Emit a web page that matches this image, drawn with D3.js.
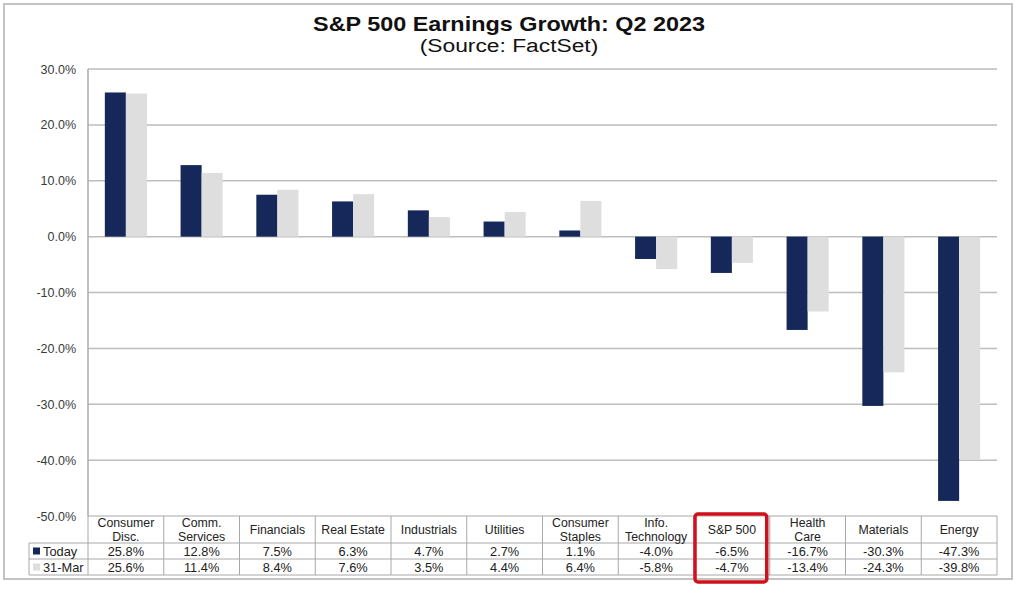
<!DOCTYPE html>
<html>
<head>
<meta charset="utf-8">
<script src="https://cdn.jsdelivr.net/npm/d3@7"></script>
<style>
  html, body { margin: 0; padding: 0; background: #fff; }
  svg { display: block; font-family: "Liberation Sans", Arial, sans-serif; }
</style>
</head>
<body>
<svg id="chart" width="1019" height="598"></svg>
<script>
// ---- data ----
const categories = ["Consumer Disc.", "Comm. Services", "Financials", "Real Estate", "Industrials", "Utilities", "Consumer Staples", "Info. Technology", "S&P 500", "Health Care", "Materials", "Energy"];
const categoryLines = [["Consumer", "Disc."], ["Comm.", "Services"], ["Financials"], ["Real Estate"], ["Industrials"], ["Utilities"], ["Consumer", "Staples"], ["Info.", "Technology"], ["S&P 500"], ["Health", "Care"], ["Materials"], ["Energy"]];
const seriesNames = ["Today", "31-Mar"];
const today = [25.8, 12.8, 7.5, 6.3, 4.7, 2.7, 1.1, -4.0, -6.5, -16.7, -30.3, -47.3];
const mar31 = [25.6, 11.4, 8.4, 7.6, 3.5, 4.4, 6.4, -5.8, -4.7, -13.4, -24.3, -39.8];
const yTicks = [30, 20, 10, 0, -10, -20, -30, -40, -50];
const highlighted = "S&P 500";

const colors = { "Today": "#16275a", "31-Mar": "#dedede" };

const svg = d3.select("#chart");
const plot = { left: 88, right: 997, top: 69, bottom: 516 };

// outer frame
svg.append("rect").attr("x", 4).attr("y", 4).attr("width", 1008).attr("height", 575)
  .attr("fill", "#fff").attr("stroke", "#c4c4c4").attr("stroke-width", 2);

// title (source image is horizontally stretched)
svg.append("text").attr("transform", "translate(509,31) scale(1.2,1)").attr("text-anchor", "middle")
  .attr("font-weight", "bold").attr("font-size", 19.5).attr("fill", "#111")
  .text("S&P 500 Earnings Growth: Q2 2023");
svg.append("text").attr("transform", "translate(509,52) scale(1.2,1)").attr("text-anchor", "middle")
  .attr("font-size", 19).attr("fill", "#111")
  .text("(Source: FactSet)");

const y = d3.scaleLinear().domain([-50, 30]).range([plot.bottom, plot.top]);
const x = d3.scaleBand().domain(categories).range([plot.left, plot.right]).padding(0);
const x1 = d3.scaleBand().domain(seriesNames).range([0, x.bandwidth()]).paddingInner(0).paddingOuter(0.8);

const pct = v => d3.format(".1f")(v).replace("\u2212", "-") + "%";

// gridlines
svg.append("g").selectAll("line").data(yTicks.filter(t => t !== -50)).join("line")
  .attr("x1", plot.left).attr("x2", plot.right)
  .attr("y1", d => y(d)).attr("y2", d => y(d))
  .attr("stroke", "#bdbdbd").attr("stroke-width", 1.5);

// y-axis labels
const yAxis = d3.axisLeft(y).tickValues(yTicks).tickSize(0).tickPadding(12).tickFormat(pct);
const gy = svg.append("g").attr("transform", `translate(${plot.left},0)`).call(yAxis);
gy.select(".domain").remove();
gy.selectAll("text").attr("font-family", "Liberation Sans, Arial, sans-serif")
  .attr("font-size", 12.5).attr("fill", "#3a3a3a");

// bars
const rows = categories.map((c, i) => ({ cat: c, vals: [{ s: "Today", v: today[i] }, { s: "31-Mar", v: mar31[i] }] }));
const groups = svg.append("g").selectAll("g").data(rows).join("g")
  .attr("transform", d => `translate(${x(d.cat)},0)`);
groups.selectAll("rect").data(d => d.vals).join("rect")
  .attr("x", d => x1(d.s)).attr("width", x1.bandwidth())
  .attr("y", d => y(Math.max(0, d.v)))
  .attr("height", d => Math.abs(y(d.v) - y(0)))
  .attr("fill", d => colors[d.s]);

// y axis line
svg.append("line").attr("x1", plot.left).attr("x2", plot.left).attr("y1", plot.top).attr("y2", plot.bottom)
  .attr("stroke", "#aaa").attr("stroke-width", 1.5);

// ---- data table ----
const tb = { headTop: 516, row1: 543, row2: 559, bottom: 575, legLeft: 29 };
const tg = svg.append("g");
const lineCol = "#a8a8a8";
tg.append("line").attr("x1", plot.left).attr("x2", plot.right).attr("y1", tb.headTop).attr("y2", tb.headTop).attr("stroke", lineCol);
[tb.row1, tb.row2, tb.bottom].forEach(yy => {
  tg.append("line").attr("x1", tb.legLeft).attr("x2", plot.right).attr("y1", yy).attr("y2", yy).attr("stroke", lineCol);
});
tg.append("line").attr("x1", tb.legLeft).attr("x2", tb.legLeft).attr("y1", tb.row1).attr("y2", tb.bottom).attr("stroke", lineCol);
categories.forEach(c => {
  tg.append("line").attr("x1", x(c)).attr("x2", x(c)).attr("y1", tb.headTop).attr("y2", tb.bottom).attr("stroke", lineCol);
});
tg.append("line").attr("x1", plot.right).attr("x2", plot.right).attr("y1", tb.headTop).attr("y2", tb.bottom).attr("stroke", lineCol);

// header labels
categories.forEach((c, i) => {
  const lines = categoryLines[i];
  const cx = x(c) + x.bandwidth() / 2;
  const t = tg.append("text").attr("text-anchor", "middle").attr("font-size", 12.3).attr("fill", "#222");
  if (lines.length === 1) {
    t.append("tspan").attr("x", cx).attr("y", 534).text(lines[0]);
  } else {
    t.append("tspan").attr("x", cx).attr("y", 527).text(lines[0]);
    t.append("tspan").attr("x", cx).attr("y", 540.5).text(lines[1]);
  }
});

// value rows
[today, mar31].forEach((arr, r) => {
  const yy = (r === 0 ? tb.row1 : tb.row2) + 12.5;
  categories.forEach((c, i) => {
    tg.append("text").attr("x", x(c) + x.bandwidth() / 2).attr("y", yy)
      .attr("text-anchor", "middle").attr("font-size", 12.8).attr("fill", "#222").text(pct(arr[i]));
  });
  tg.append("rect").attr("x", 33).attr("y", yy - 8).attr("width", 7).attr("height", 7)
    .attr("fill", colors[seriesNames[r]]);
  tg.append("text").attr("x", 43).attr("y", yy).attr("font-size", 12.8).attr("fill", "#222")
    .text(seriesNames[r]);
});

// highlight box
const hx = x(highlighted);
svg.append("rect").attr("x", hx + 1).attr("y", 514).attr("width", x.bandwidth() - 4).attr("height", 68)
  .attr("rx", 3).attr("fill", "none").attr("stroke", "#d0101c").attr("stroke-width", 3.5);
</script>
</body>
</html>
